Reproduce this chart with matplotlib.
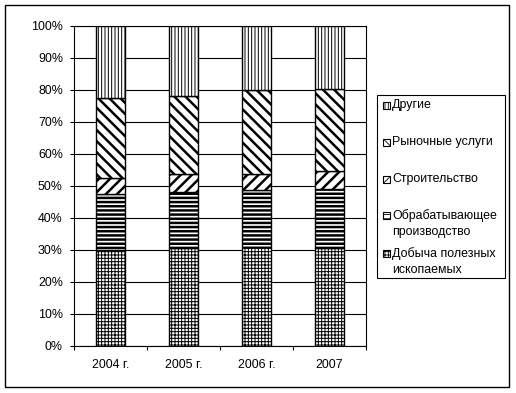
import numpy as np
import matplotlib.pyplot as plt
from matplotlib.patches import Rectangle

plt.rcParams['font.family'] = ['Liberation Sans', 'DejaVu Sans']
plt.rcParams['font.size'] = 8.9

years = ["2004 г.", "2005 г.", "2006 г.", "2007"]
sectors = ["Добыча полезных\nископаемых", "Обрабатывающее\nпроизводство", "Строительство",
           "Рыночные услуги", "Другие"]
mining = [29.9, 30.7, 30.9, 30.5]
manufacturing = [17.5, 17.5, 18.0, 18.6]
construction = [5.2, 5.4, 5.0, 5.7]
services = [24.8, 24.6, 26.2, 25.6]
other = [22.6, 21.8, 19.9, 19.6]

series = [mining, manufacturing, construction, services, other]
hatches = ['+++++', '----', '///', '\\\\\\', '|||||']
hatch_lw = [0.7, 1.8, 1.8, 1.8, 0.7]

W, H = 516, 393
fig = plt.figure(figsize=(W / 100, H / 100), dpi=100)
ax = fig.add_axes([74 / W, 1 - 346 / H, (366 - 74) / W, (346 - 26) / H])

x = np.arange(len(years))
bottom = np.zeros(len(years))
for vals, h, lw in zip(series, hatches, hatch_lw):
    plt.rcParams['hatch.linewidth'] = lw
    ax.bar(x, vals, width=0.4, bottom=bottom, color='white', edgecolor='black',
           linewidth=1.0, hatch=h, zorder=3)
    bottom += np.array(vals)

ax.set_xlim(-0.5, 3.5)
ax.set_ylim(0, 100)
ax.set_yticks(np.arange(0, 101, 10))
ax.set_yticklabels([f"{v}%" for v in range(0, 101, 10)])
ax.yaxis.grid(True, color='black', linewidth=0.8, zorder=0)
ax.set_axisbelow(True)
ax.set_xticks([-0.5, 0.5, 1.5, 2.5, 3.5])
ax.set_xticklabels([])
ax.set_xticks(x, minor=True)
ax.set_xticklabels(years, minor=True)
ax.tick_params(axis='x', which='minor', length=0, pad=9)
ax.tick_params(axis='both', which='major', length=3, width=0.8, direction='out', pad=5)
for s in ax.spines.values():
    s.set_linewidth(0.8)

# legend (Excel style, drawn by hand)
fig.add_artist(Rectangle((377 / W, 1 - 278 / H), (505 - 377) / W, (278 - 95) / H,
                         transform=fig.transFigure, facecolor='white', edgecolor='black',
                         linewidth=0.8))
leg_y = [253, 215, 179, 142, 105]
for name, h, lw, yy in zip(sectors, hatches, hatch_lw, leg_y):
    plt.rcParams['hatch.linewidth'] = 0.6
    fig.add_artist(Rectangle((383 / W, 1 - (yy + 4) / H), 7 / W, 7 / H,
                             transform=fig.transFigure, facecolor='white',
                             edgecolor='black', linewidth=0.8, hatch=h))
    fig.text(392 / W, 1 - (yy - 6) / H, name, va='top', ha='left', linespacing=1.45)

fig.add_artist(Rectangle((5 / W, 1 - 387 / H), (509 - 5) / W, (387 - 5) / H,
                         transform=fig.transFigure, facecolor='none', edgecolor='black',
                         linewidth=1.0))

fig.savefig("out.png", dpi=100)
